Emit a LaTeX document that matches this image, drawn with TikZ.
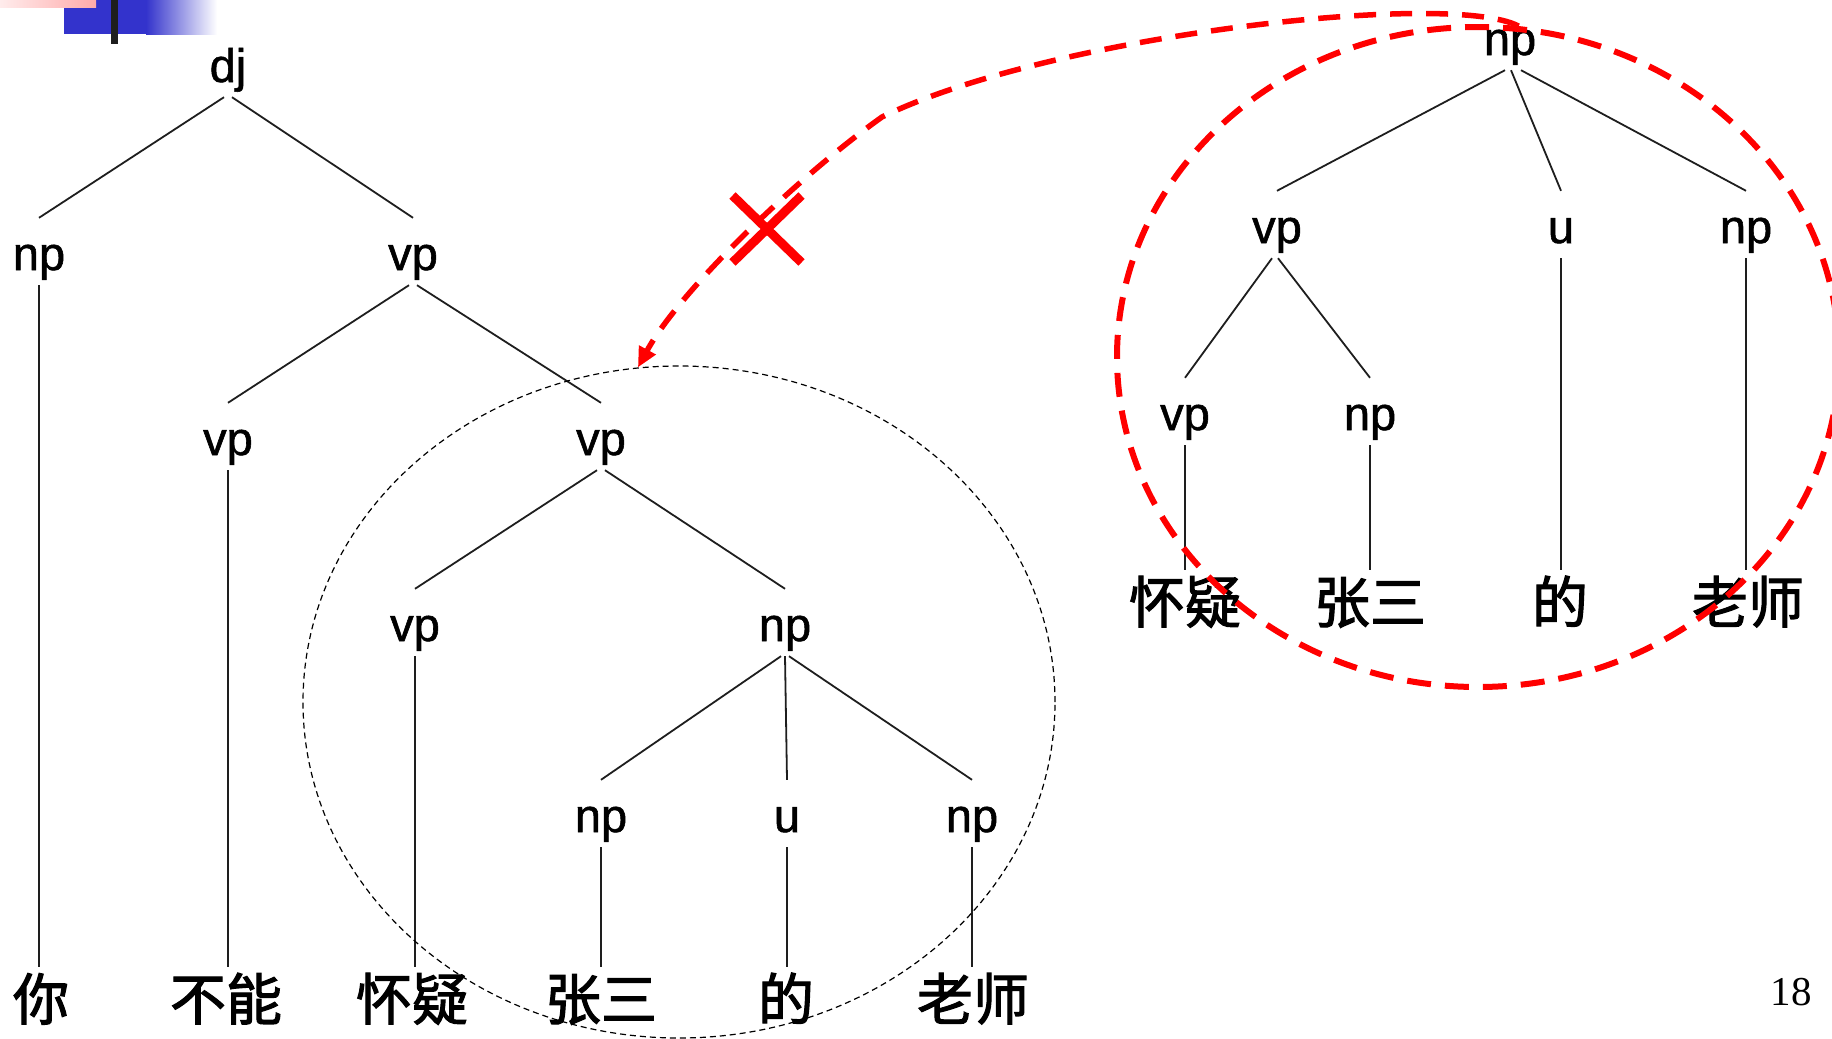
\documentclass[tikz,border=0pt]{standalone}
\usepackage{fontspec}
\setmainfont{Liberation Sans}
\newfontfamily\labfont{Liberation Sans}[FakeBold=1.2]
\newfontfamily\cjk{Noto Sans CJK SC}[FakeBold=2]
\newfontfamily\numfont{Liberation Serif}
\usetikzlibrary{shapes.geometric,shapes.misc,arrows.meta}
\definecolor{redline}{RGB}{255,0,0}
\definecolor{slideblue}{RGB}{51,51,204}
\definecolor{pinkA}{RGB}{255,236,236}
\definecolor{pinkB}{RGB}{255,170,170}
\definecolor{treeline}{RGB}{30,30,30}
\begin{document}
\begin{tikzpicture}[x=1pt,y=-1pt,
  lab/.style={font=\labfont\fontsize{47}{50}\selectfont, inner sep=0pt, text height=52pt, text depth=15pt, anchor=base},
  word/.style={font=\cjk\fontsize{56}{60}\selectfont, inner sep=0pt, text height=53pt, text depth=11pt, anchor=center},
  treeedge/.style={draw=treeline, line width=1.8pt},
  blkellipse/.style={ellipse, draw=black, line width=1.2pt, dash pattern=on 6pt off 4pt, inner sep=0pt},
  redellipse/.style={ellipse, draw=redline, line width=6pt, dash pattern=on 24pt off 14pt, inner sep=0pt},
  redarrow/.style={draw=redline, line width=5.5pt, dash pattern=on 22pt off 14pt, -{Triangle[length=20pt,width=18pt]}},
  crossmark/.style={cross out, draw=redline, line width=9pt, minimum width=60pt, minimum height=58pt, inner sep=0pt}
]
\useasboundingbox (0,0) rectangle (1832,1039);
\clip (0,0) rectangle (1832,1039);

% top-left slide decoration
\fill[slideblue] (64,0) rectangle (146,34);
\shade[left color=slideblue, right color=white] (146,0) rectangle (217,34);
\shade[left color=pinkA, right color=pinkB] (0,0) rectangle (96,7);
\fill[treeline] (111,0) rectangle (118,44);

% ---------- left tree ----------
\node[lab] (dj)    at (228,82)  {dj};
\node[lab] (L1np)  at (39,270)  {np};
\node[lab] (L1vp)  at (413,270) {vp};
\node[lab] (L2vp)  at (228,455) {vp};
\node[lab] (L2vpb) at (601,455) {vp};
\node[lab] (L3vp)  at (415,641) {vp};
\node[lab] (L3np)  at (785,641) {np};
\node[lab] (L4np)  at (601,832) {np};
\node[lab] (L4u)   at (787,832) {u};
\node[lab] (L4npb) at (972,832) {np};

\node[word] (W1) at (41,999)  {你};
\node[word] (W2) at (226,999) {不能};
\node[word] (W3) at (412,999) {怀疑};
\node[word] (W4) at (601,999) {张三};
\node[word] (W5) at (786,999) {的};
\node[word] (W6) at (973,999) {老师};

\draw[treeedge] ([xshift=-4pt]dj.south) -- (L1np.north);
\draw[treeedge] ([xshift=4pt]dj.south) -- (L1vp.north);
\draw[treeedge] ([xshift=-4pt]L1vp.south) -- (L2vp.north);
\draw[treeedge] ([xshift=4pt]L1vp.south) -- (L2vpb.north);
\draw[treeedge] ([xshift=-4pt]L2vpb.south) -- (L3vp.north);
\draw[treeedge] ([xshift=4pt]L2vpb.south) -- (L3np.north);
\draw[treeedge] ([xshift=-4pt]L3np.south) -- (L4np.north);
\draw[treeedge] (L3np.south) -- (L4u.north);
\draw[treeedge] ([xshift=4pt]L3np.south) -- (L4npb.north);
\draw[treeedge] (L1np.south) -- (L1np.south |- W1.north);
\draw[treeedge] (L2vp.south) -- (L2vp.south |- W2.north);
\draw[treeedge] (L3vp.south) -- (L3vp.south |- W3.north);
\draw[treeedge] (L4np.south) -- (L4np.south |- W4.north);
\draw[treeedge] (L4u.south) -- (L4u.south |- W5.north);
\draw[treeedge] (L4npb.south) -- (L4npb.south |- W6.north);

% ---------- right tree ----------
\node[lab] (Rnp)   at (1510,55)  {np};
\node[lab] (Rvp)   at (1277,243) {vp};
\node[lab] (Ru)    at (1561,243) {u};
\node[lab] (Rnpb)  at (1746,243) {np};
\node[lab] (Rvpb)  at (1185,430) {vp};
\node[lab] (Rnpc)  at (1370,430) {np};

\node[word] (RW1) at (1185,602) {怀疑};
\node[word] (RW2) at (1370,602) {张三};
\node[word] (RW3) at (1560,602) {的};
\node[word] (RW4) at (1748,602) {老师};

\draw[treeedge] ([xshift=-5pt]Rnp.south) -- (Rvp.north);
\draw[treeedge] ([xshift=1pt]Rnp.south) -- (Ru.north);
\draw[treeedge] ([xshift=11pt]Rnp.south) -- (Rnpb.north);
\draw[treeedge] ([xshift=-5pt]Rvp.south) -- (Rvpb.north);
\draw[treeedge] ([xshift=1pt]Rvp.south) -- (Rnpc.north);
\draw[treeedge] (Rvpb.south) -- (Rvpb.south |- RW1.north);
\draw[treeedge] (Rnpc.south) -- (Rnpc.south |- RW2.north);
\draw[treeedge] (Ru.south) -- (Ru.south |- RW3.north);
\draw[treeedge] (Rnpb.south) -- (Rnpb.south |- RW4.north);

% ---------- ellipses, arrow, cross ----------
\node[blkellipse, minimum width=752pt, minimum height=672pt] (bigL) at (679,702) {};
\node[redellipse, minimum width=722pt, minimum height=660pt] (bigR) at (1478,357) {};
\coordinate (kink) at (882,117);
\draw[redarrow] (bigR.83) .. controls (1450,-10) and (1050,35) .. (kink)
                .. controls (800,175) and (680,290) .. (bigL.97);
\node[crossmark] (xmark) at (767,229) {};

% page number
\node[font=\numfont\fontsize{41}{44}\selectfont, anchor=base, inner sep=0pt] (pg) at (1791,1005) {18};
\end{tikzpicture}
\end{document}
